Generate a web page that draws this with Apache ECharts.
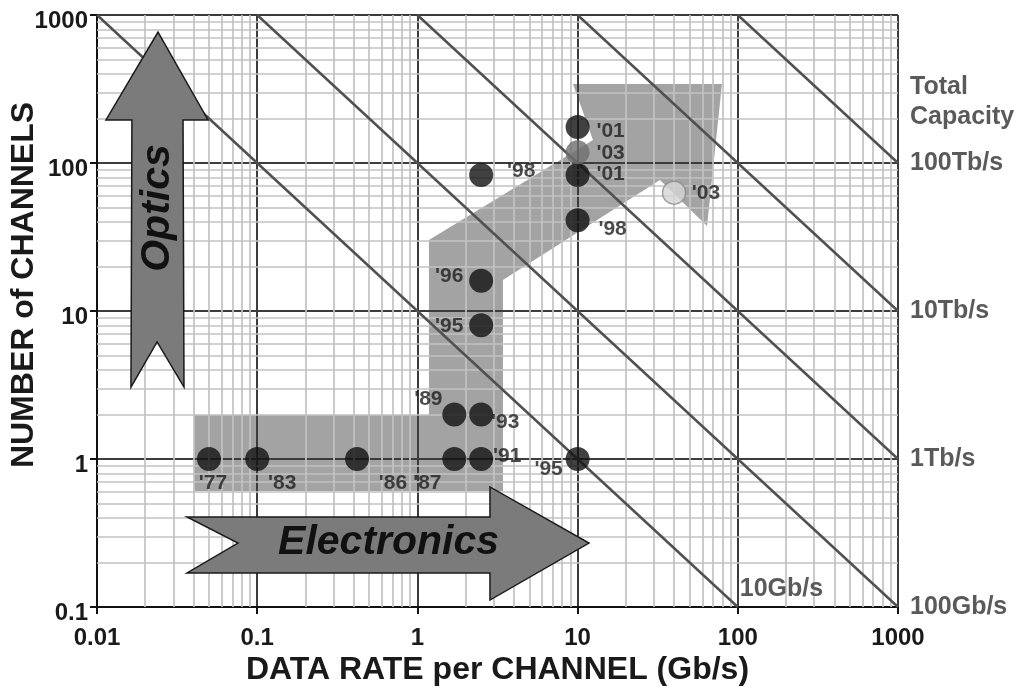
<!DOCTYPE html>
<html>
<head>
<meta charset="utf-8">
<script src="https://cdn.jsdelivr.net/npm/echarts@6/dist/echarts.min.js"></script>
<style>
html,body{margin:0;padding:0;background:#fff;}
#c{width:1028px;height:690px;}
</style>
</head>
<body>
<div id="c"></div>
<script>
// ---------- data ----------
const xTickLabels = ['0.01', '0.1', '1', '10', '100', '1000'];
const yTickLabels = ['0.1', '1', '10', '100', '1000'];
const capacityTickLabels = ['100Gb/s', '1Tb/s', '10Tb/s', '100Tb/s', ''];
const capacityLinesGbps = [10, 100, 1000, 10000, 100000];

const blackYears    = ["'77", "'83", "'86", "'87", "'89", "'91", "'93", "'95", "'96", "'98", "'95", "'98", "'01", "'01"];
const blackRate     = [0.05, 0.1, 0.42, 1.7, 1.7, 2.5, 2.5, 2.5, 2.5, 2.5, 10, 10, 10, 10];
const blackChannels = [1, 1, 1, 1, 2, 1, 2, 8, 16, 83, 1, 41, 83, 175];

const grayYears    = ["'03"];
const grayRate     = [10];
const grayChannels = [118];

const lightYears    = ["'03"];
const lightRate     = [40];
const lightChannels = [63];

// ---------- layout (label offsets in px, not data) ----------
const blackLabelOffsets = [[4,24],[25,24],[36,24],[-27,24],[-26,-15],[26,-3],[24,8],[-32,1],[-32,-5],[40,-4],[-29,10],[35,9],[33,-1],[33,4]];
const grayLabelOffsets = [[33,1]];
const lightLabelOffsets = [[32,1]];

// annotation shapes, in log10(data) coordinates
const bandShape = [[-1.394,0.297],[0.072,0.297],[0.072,1.480],[1.096,2.155],[0.971,2.534],[1.901,2.534],[1.808,1.574],[1.514,1.885],[0.534,1.209],[0.534,-0.216],[-1.394,-0.216]];
const opticsShape = [[-1.619,2.885],[-1.307,2.291],[-1.463,2.291],[-1.457,0.486],[-1.625,0.791],[-1.788,0.486],[-1.782,2.291],[-1.944,2.291]];
const electronicsShape = [[-1.438,-0.392],[0.453,-0.392],[0.453,-0.189],[1.071,-0.568],[0.453,-0.953],[0.453,-0.770],[-1.438,-0.770],[-1.120,-0.568]];

const FONT = 'Liberation Sans, Arial, sans-serif';

function fmtLog(labels, offset) {
  return v => { const i = Math.round(Math.log10(v)) + offset; return labels[i] !== undefined ? labels[i] : ''; };
}

// minor grid lines (2..9 per decade)
function minorLines() {
  const out = [];
  for (let k = -2; k <= 2; k++) for (let m = 2; m <= 9; m++) {
    const x = Number((m * Math.pow(10, k)).toPrecision(3));
    out.push({ coords: [[x, 0.1], [x, 1000]] });
  }
  for (let k = -1; k <= 2; k++) for (let m = 2; m <= 9; m++) {
    const y = Number((m * Math.pow(10, k)).toPrecision(3));
    out.push({ coords: [[0.01, y], [1000, y]] });
  }
  return out;
}
function capacityLines() {
  return capacityLinesGbps.map(P => {
    const yEnd = Math.max(0.1, P / 1000);
    return { coords: [[P / 1000, 1000], [P / yEnd, yEnd]] };
  });
}
function pts(xs, ys, years, offs) {
  return xs.map((x, i) => ({
    value: [x, ys[i]],
    label: { formatter: years[i], offset: offs[i] }
  }));
}

const chart = echarts.init(document.getElementById('c'), null, { renderer: 'canvas' });
const labelBase = { show: true, position: 'inside', align: 'center', verticalAlign: 'middle',
  color: '#1e1e1e', fontFamily: FONT, fontWeight: 'bold', fontSize: 21 };

chart.setOption({
  backgroundColor: '#fff',
  animation: false,
  grid: { left: 97, right: 130, top: 15, bottom: 83, containLabel: false, outerBoundsMode: 'none' },
  xAxis: {
    type: 'log', min: 0.01, max: 1000, logBase: 10,
    name: 'DATA RATE per CHANNEL (Gb/s)', nameLocation: 'middle', nameGap: 47, nameMoveOverlap: false,
    nameTextStyle: { fontFamily: FONT, fontWeight: 'bold', fontSize: 32, color: '#1a1a1a' },
    axisLine: { show: true, lineStyle: { color: '#111', width: 2 } },
    axisTick: { show: true, length: 7, lineStyle: { color: '#111', width: 2 } },
    minorTick: { show: false },
    axisLabel: { formatter: fmtLog(xTickLabels, 2), margin: 19, fontFamily: FONT, fontWeight: 'bold', fontSize: 24, color: '#1a1a1a', showMinLabel: true, showMaxLabel: true },
    splitLine: { show: true, showMinLine: true, showMaxLine: true, lineStyle: { color: '#3c3c3c', width: 2 } }
  },
  yAxis: [{
    type: 'log', min: 0.1, max: 1000, logBase: 10,
    name: 'NUMBER of CHANNELS', nameLocation: 'middle', nameGap: 57, nameRotate: 90, nameMoveOverlap: false,
    nameTextStyle: { fontFamily: FONT, fontWeight: 'bold', fontSize: 32, color: '#1a1a1a', padding: [0, 0, 0, 52] },
    axisLine: { show: true, lineStyle: { color: '#111', width: 2 } },
    axisTick: { show: true, length: 7, lineStyle: { color: '#111', width: 2 } },
    axisLabel: { formatter: fmtLog(yTickLabels, 1), margin: 9, verticalAlign: 'top', lineHeight: 12, fontFamily: FONT, fontWeight: 'bold', fontSize: 24, color: '#1a1a1a', showMinLabel: true, showMaxLabel: true },
    splitLine: { show: true, showMinLine: true, showMaxLine: true, lineStyle: { color: '#3c3c3c', width: 2 } }
  }, {
    type: 'log', min: 0.1, max: 1000, logBase: 10, position: 'right',
    axisLine: { show: false }, axisTick: { show: false }, splitLine: { show: false },
    axisLabel: { formatter: fmtLog(capacityTickLabels, 1), margin: 12, fontFamily: FONT, fontWeight: 'bold', fontSize: 25, color: '#5a5a5a', showMinLabel: true, showMaxLabel: true }
  }],
  series: [
    { type: 'lines', coordinateSystem: 'cartesian2d', silent: true, z: 1,
      lineStyle: { color: '#c2c2c2', width: 1.7, opacity: 1 }, data: minorLines() },
    { type: 'lines', coordinateSystem: 'cartesian2d', silent: true, z: 2,
      lineStyle: { color: '#505050', width: 2.5, opacity: 1 }, data: capacityLines() },
    { type: 'scatter', name: 'main', z: 20, symbol: 'circle', symbolSize: 24,
      itemStyle: { color: '#111111' }, label: labelBase,
      data: pts(blackRate, blackChannels, blackYears, blackLabelOffsets) },
    { type: 'scatter', z: 21, symbol: 'circle', symbolSize: 24,
      itemStyle: { color: '#6e6e6e' }, label: labelBase,
      data: pts(grayRate, grayChannels, grayYears, grayLabelOffsets) },
    { type: 'scatter', z: 21, symbol: 'circle', symbolSize: 23,
      itemStyle: { color: '#d4d4d4', borderColor: '#8a8a8a', borderWidth: 1.5 }, label: labelBase,
      data: pts(lightRate, lightChannels, lightYears, lightLabelOffsets) }
  ]
});

function toPx(p) { return chart.convertToPixel({ seriesIndex: 2 }, [Math.pow(10, p[0]), Math.pow(10, p[1])]); }

const optC = toPx([-1.62, 1.696]);
const eleC = toPx([-0.18, -0.568]);
const gb10 = toPx([2, -1]);
const right = toPx([3, 2.9]);

chart.setOption({
  graphic: [
    { type: 'polygon', z: -1, silent: true, shape: { points: bandShape.map(toPx) }, style: { fill: '#a3a3a3', stroke: null } },
    { type: 'polygon', z: 10, silent: true, shape: { points: opticsShape.map(toPx) }, style: { fill: '#7b7b7b', stroke: '#1a1a1a', lineWidth: 1.5 } },
    { type: 'polygon', z: 10, silent: true, shape: { points: electronicsShape.map(toPx) }, style: { fill: '#7b7b7b', stroke: '#1a1a1a', lineWidth: 1.5 } },
    { type: 'text', z: 11, silent: true, x: optC[0], y: optC[1], rotation: Math.PI / 2,
      style: { text: 'Optics', fill: '#111', font: 'italic bold 41px ' + FONT, align: 'center', verticalAlign: 'middle' } },
    { type: 'text', z: 11, silent: true, x: eleC[0], y: eleC[1],
      style: { text: 'Electronics', fill: '#111', font: 'italic bold 41px ' + FONT, align: 'center', verticalAlign: 'middle' } },
    { type: 'text', z: 11, silent: true, x: gb10[0] + 2, y: gb10[1] - 18,
      style: { text: '10Gb/s', fill: '#5a5a5a', font: 'bold 25px ' + FONT, align: 'left', verticalAlign: 'middle' } },
    { type: 'text', z: 11, silent: true, x: right[0] + 12, y: 72,
      style: { text: 'Total\nCapacity', fill: '#5a5a5a', font: 'bold 25px ' + FONT, lineHeight: 30, align: 'left', verticalAlign: 'top' } }
  ]
});
</script>
</body>
</html>
